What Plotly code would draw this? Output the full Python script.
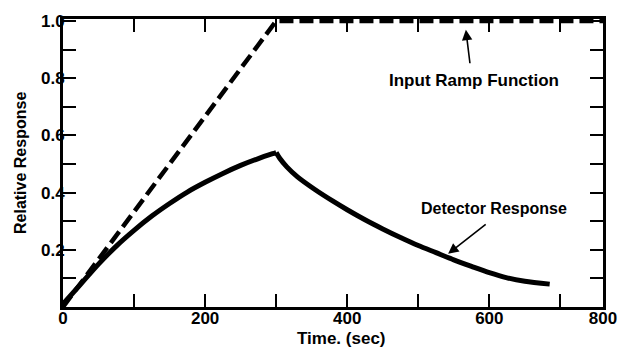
import plotly.graph_objects as go

# Data
ramp_x = [0, 300, 760]
ramp_y = [0.0, 1.0, 1.0]

det_x = [0, 25, 50, 75, 100, 125, 150, 175, 200, 225, 250, 275, 295, 300,
         305, 315, 330, 355, 380, 400, 425, 450, 475, 500, 525, 550, 575, 600, 625, 650, 685]
det_y = [0.01, 0.08, 0.15, 0.213, 0.268, 0.318, 0.362, 0.402, 0.436, 0.467, 0.495, 0.519, 0.536, 0.54,
         0.52, 0.49, 0.455, 0.41, 0.37, 0.34, 0.305, 0.273, 0.243, 0.215, 0.19, 0.165, 0.142, 0.12, 0.102, 0.09, 0.08]
peak_index = det_x.index(300)

x_tickvals = [0, 100, 200, 300, 400, 500, 600, 700, 760]
x_ticktext = ["0", "", "200", "", "400", "", "600", "", "800"]
y_tickvals = [0.1, 0.2, 0.3, 0.4, 0.5, 0.6, 0.7, 0.8, 0.9, 1.0]
y_ticktext = ["", "0.2", "", "0.4", "", "0.6", "", "0.8", "", "1.0"]

FONT = "Liberation Sans"

fig = go.Figure()
fig.add_trace(go.Scatter(x=ramp_x, y=ramp_y, mode="lines",
                         line=dict(color="black", width=4.5, dash="14px,6px"),
                         showlegend=False, hoverinfo="skip"))
# detector response: rise and decay drawn as smooth segments meeting at the peak
fig.add_trace(go.Scatter(x=det_x[:peak_index + 1], y=det_y[:peak_index + 1], mode="lines",
                         line=dict(color="black", width=5, shape="spline", smoothing=0.8),
                         showlegend=False, hoverinfo="skip"))
fig.add_trace(go.Scatter(x=det_x[peak_index:], y=det_y[peak_index:], mode="lines",
                         line=dict(color="black", width=5, shape="spline", smoothing=0.8),
                         showlegend=False, hoverinfo="skip"))

axis_common = dict(showline=True, linecolor="black", linewidth=3, mirror="ticks",
                   ticks="inside", ticklen=13, tickwidth=2, tickcolor="black",
                   showgrid=False, zeroline=False,
                   tickfont=dict(family=FONT, size=17, color="black", weight="bold"))

fig.update_xaxes(range=[0, 760], tickmode="array", tickvals=x_tickvals, ticktext=x_ticktext,
                 ticklabelstandoff=-6, **axis_common)
fig.update_yaxes(range=[0, 1.007], tickmode="array", tickvals=y_tickvals, ticktext=y_ticktext,
                 ticklabelstandoff=-8, **axis_common)

title_font = dict(family=FONT, size=16, color="black", weight="bold")
fig.add_annotation(x=0, y=0.5, xref="paper", yref="paper", xanchor="center", yanchor="middle",
                   xshift=-43, textangle=-90, text="Relative Response", showarrow=False,
                   font=title_font)
fig.add_annotation(x=0.516, y=0, xref="paper", yref="paper", yanchor="middle", yshift=-31,
                   text="Time. (sec)", showarrow=False,
                   font=dict(family=FONT, size=17, color="black", weight="bold"))

ann_font = dict(family=FONT, size=17, color="black", weight="bold")
fig.add_annotation(x=579, y=0.791, xref="x", yref="y", text="Input Ramp Function",
                   showarrow=False, font=ann_font)
fig.add_annotation(x=567, y=0.969, ax=573, ay=0.847, xref="x", yref="y", axref="x", ayref="y",
                   text="", showarrow=True, arrowhead=2, arrowsize=1.3, arrowwidth=1.6, arrowcolor="black")
fig.add_annotation(x=607, y=0.346, xref="x", yref="y", text="Detector Response",
                   showarrow=False, font=dict(family=FONT, size=16, color="black", weight="bold"))
fig.add_annotation(x=542, y=0.186, ax=597, ay=0.293, xref="x", yref="y", axref="x", ayref="y",
                   text="", showarrow=True, arrowhead=2, arrowsize=1.3, arrowwidth=1.6, arrowcolor="black")

fig.update_layout(width=629, height=347, margin=dict(l=63, r=15, t=19, b=40),
                  paper_bgcolor="white", plot_bgcolor="white",
                  font=dict(family=FONT, color="black"))

fig.write_html("out.html")
